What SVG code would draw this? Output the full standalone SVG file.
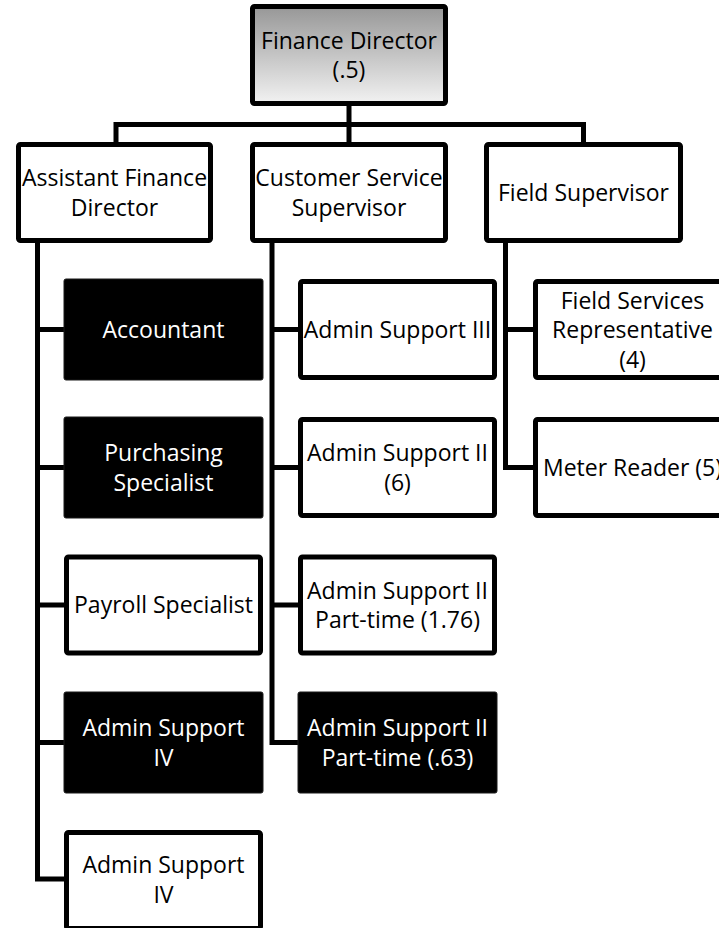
<svg xmlns="http://www.w3.org/2000/svg" width="719" height="928" viewBox="0 0 719 928">
  <style>
    .box { fill: #ffffff; stroke: #000000; stroke-width: 5; }
    .dark { fill: #000000; stroke: #1a1a1a; stroke-width: 1; }
    .top { fill: url(#topFill); stroke: #000000; stroke-width: 5; }
    .lbl { font-family: "Open Sans", "Liberation Sans", sans-serif; font-size: 23px; text-anchor: middle; fill: #000000; }
    .inv { fill: #ffffff; }
    .wire { fill: none; stroke: #000000; stroke-width: 5; stroke-linejoin: miter; stroke-linecap: butt; }
  </style>
  <defs>
    <linearGradient id="topFill" x1="0" y1="0" x2="0" y2="1">
      <stop offset="0" stop-color="#979797"/>
      <stop offset="1" stop-color="#f2f2f2"/>
    </linearGradient>
  </defs>
  <rect width="719" height="928" fill="#ffffff"/>

  <!-- connectors -->
  <g id="connectors">
    <path class="wire" d="M349,106 V142"/>
    <path class="wire" d="M116,142 V124.5 H583.5 V142"/>
    <path class="wire" d="M37.5,243 V879 H64"/>
    <path class="wire" d="M37.5,329.5 H64 M37.5,467.5 H64 M37.5,605 H64 M37.5,742.5 H64"/>
    <path class="wire" d="M272,243 V742.5 H298"/>
    <path class="wire" d="M272,329.5 H298 M272,467.5 H298 M272,605 H298"/>
    <path class="wire" d="M505.5,243 V467.5 H533"/>
    <path class="wire" d="M505.5,329.5 H533"/>
  </g>

  <!-- top level -->
  <g id="finance-director">
    <rect class="top" x="252.5" y="6.5" width="193" height="97" rx="2"/>
    <text class="lbl" x="349" y="48.5">Finance Director</text>
    <text class="lbl" x="349" y="78">(.5)</text>
  </g>

  <!-- second level -->
  <g id="assistant-finance-director">
    <rect class="box" x="18.5" y="144.5" width="192" height="96" rx="2"/>
    <text class="lbl" x="114.5" y="186">Assistant Finance</text>
    <text class="lbl" x="114.5" y="215.5">Director</text>
  </g>
  <g id="customer-service-supervisor">
    <rect class="box" x="252.5" y="144.5" width="193" height="96" rx="2"/>
    <text class="lbl" x="349" y="186">Customer Service</text>
    <text class="lbl" x="349" y="215.5">Supervisor</text>
  </g>
  <g id="field-supervisor">
    <rect class="box" x="486.5" y="144.5" width="194" height="96" rx="2"/>
    <text class="lbl" x="583.5" y="200.5">Field Supervisor</text>
  </g>

  <!-- left column -->
  <g id="accountant">
    <rect class="dark" x="64" y="279" width="199" height="101" rx="2"/>
    <text class="lbl inv" x="163.5" y="337.5">Accountant</text>
  </g>
  <g id="purchasing-specialist">
    <rect class="dark" x="64" y="417" width="199" height="101" rx="2"/>
    <text class="lbl inv" x="163.5" y="461">Purchasing</text>
    <text class="lbl inv" x="163.5" y="490.5">Specialist</text>
  </g>
  <g id="payroll-specialist">
    <rect class="box" x="66.5" y="557" width="194" height="96" rx="2"/>
    <text class="lbl" x="163.5" y="613">Payroll Specialist</text>
  </g>
  <g id="admin-support-iv-1">
    <rect class="dark" x="64" y="692" width="199" height="101" rx="2"/>
    <text class="lbl inv" x="163.5" y="736">Admin Support</text>
    <text class="lbl inv" x="163.5" y="765.5">IV</text>
  </g>
  <g id="admin-support-iv-2">
    <rect class="box" x="66.5" y="832.5" width="194" height="96" rx="2"/>
    <text class="lbl" x="163.5" y="873">Admin Support</text>
    <text class="lbl" x="163.5" y="902.5">IV</text>
  </g>

  <!-- middle column -->
  <g id="admin-support-iii">
    <rect class="box" x="300.5" y="281.5" width="194" height="96" rx="2"/>
    <text class="lbl" x="397.5" y="337.5">Admin Support III</text>
  </g>
  <g id="admin-support-ii">
    <rect class="box" x="300.5" y="419.5" width="194" height="96" rx="2"/>
    <text class="lbl" x="397.5" y="461">Admin Support II</text>
    <text class="lbl" x="397.5" y="490.5">(6)</text>
  </g>
  <g id="admin-support-ii-pt-176">
    <rect class="box" x="300.5" y="557" width="194" height="96" rx="2"/>
    <text class="lbl" x="397.5" y="598.5">Admin Support II</text>
    <text class="lbl" x="397.5" y="628">Part-time (1.76)</text>
  </g>
  <g id="admin-support-ii-pt-063">
    <rect class="dark" x="298" y="692" width="199" height="101" rx="2"/>
    <text class="lbl inv" x="397.5" y="736">Admin Support II</text>
    <text class="lbl inv" x="397.5" y="765.5">Part-time (.63)</text>
  </g>

  <!-- right column -->
  <g id="field-services-representative">
    <rect class="box" x="535.5" y="281.5" width="194" height="96" rx="2"/>
    <text class="lbl" x="632.5" y="308.5">Field Services</text>
    <text class="lbl" x="632.5" y="338">Representative</text>
    <text class="lbl" x="632.5" y="367.5">(4)</text>
  </g>
  <g id="meter-reader">
    <rect class="box" x="535.5" y="419.5" width="194" height="96" rx="2"/>
    <text class="lbl" x="632.5" y="475.5">Meter Reader (5)</text>
  </g>
</svg>
